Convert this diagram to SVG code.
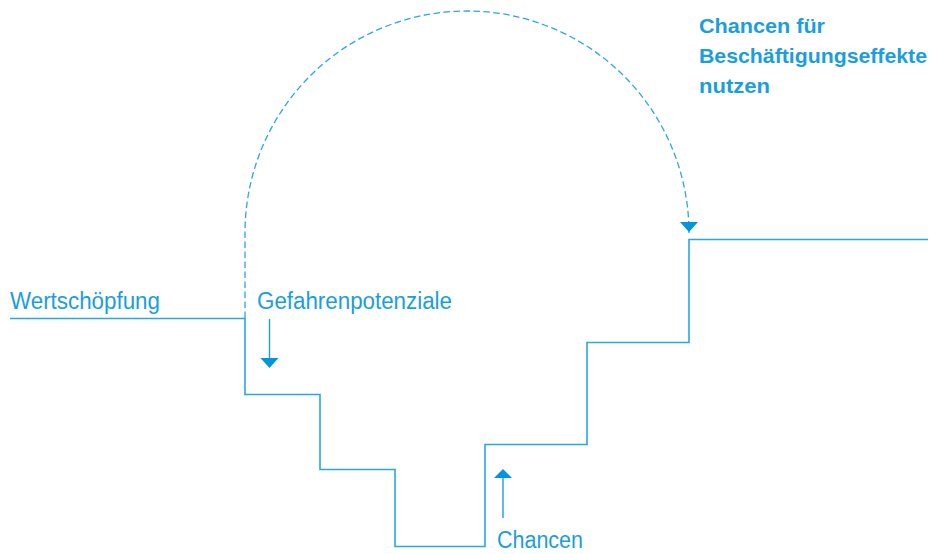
<svg xmlns="http://www.w3.org/2000/svg" width="936" height="554" viewBox="0 0 936 554">
<defs>
<style>
text{font-family:"Liberation Sans",Arial,sans-serif;fill:#1a9ede}
.lbl{font-size:23px}
.bold{font-size:21px;font-weight:bold}
.line{fill:none;stroke:#2aa7e1;stroke-width:1.6}
.dash{fill:none;stroke:#2aa7e1;stroke-width:1.3;stroke-dasharray:6.5 3.5}
.arr{fill:none;stroke:#1a9ede;stroke-width:1.4}
.head{fill:#0096d9}
</style>
</defs>
<rect width="936" height="554" fill="#ffffff"/>
<g id="connectors">
<path id="steps" class="line" d="M10,318.5 H245 V394.5 H320 V469.5 H395 V546.5 H485 V444.5 H587 V342.5 H689 V239.5 H928"/>
<path id="jump" class="dash" d="M245,318 V233 A222,222 0 0 1 689,233 V222"/>
<polygon class="head" points="680,222 698,222 689,232"/>
<line class="arr" x1="269.5" y1="319" x2="269.5" y2="359"/>
<polygon class="head" points="260.5,358 278.5,358 269.5,368"/>
<line class="arr" x1="503" y1="518" x2="503" y2="477"/>
<polygon class="head" points="494,478 512,478 503,469"/>
</g>
<g id="wertschoepfung"><text class="lbl" x="10" y="309" textLength="150" lengthAdjust="spacingAndGlyphs">Wertschöpfung</text></g>
<g id="gefahren"><text class="lbl" x="257" y="309" textLength="195" lengthAdjust="spacingAndGlyphs">Gefahrenpotenziale</text></g>
<g id="chancen"><text class="lbl" x="497" y="548" textLength="86" lengthAdjust="spacingAndGlyphs">Chancen</text></g>
<g id="beschaeftigung">
<text class="bold" x="699" y="33" textLength="126" lengthAdjust="spacingAndGlyphs">Chancen für</text>
<text class="bold" x="699" y="63" textLength="228" lengthAdjust="spacingAndGlyphs">Beschäftigungseffekte</text>
<text class="bold" x="699" y="93" textLength="71" lengthAdjust="spacingAndGlyphs">nutzen</text>
</g>
</svg>
